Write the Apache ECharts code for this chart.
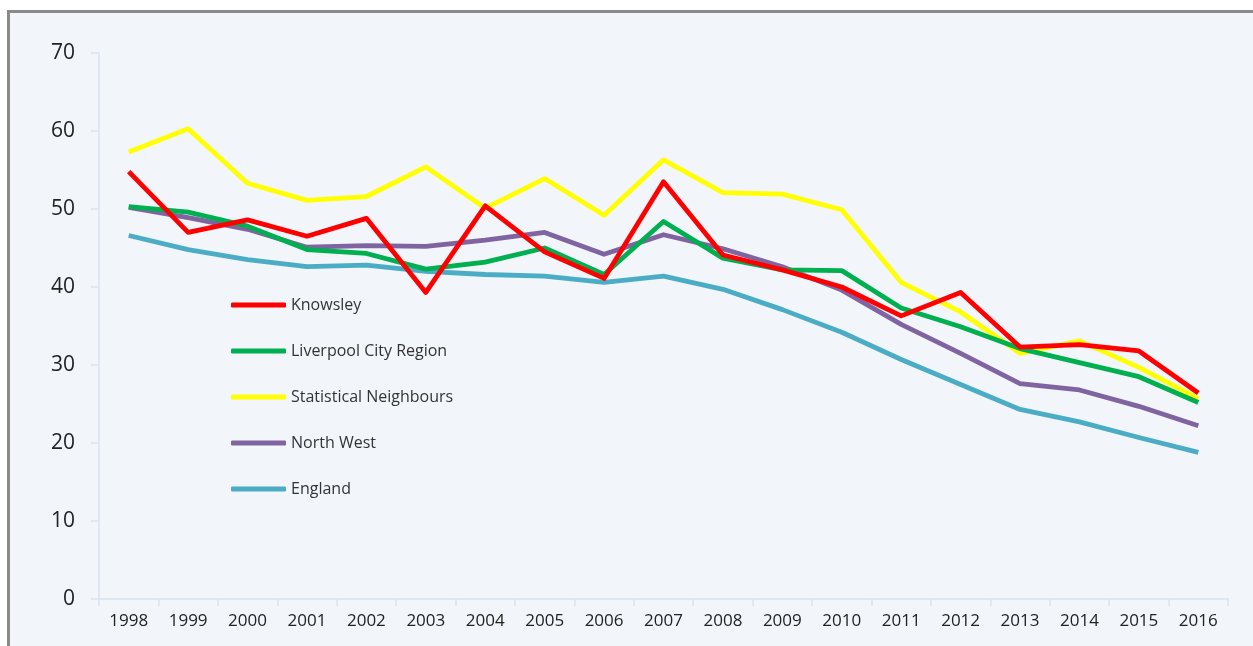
<!DOCTYPE html>
<html>
<head>
<meta charset="utf-8">
<script src="https://cdn.jsdelivr.net/npm/echarts@6/dist/echarts.min.js"></script>
<style>
  html, body { margin: 0; padding: 0; background: #ffffff; }
  #frame {
    position: absolute; left: 7px; top: 10px; width: 1260px; height: 650px;
    background: #f2f5fa; border-top: 3px solid #8a8a8a; border-left: 3px solid #8a8a8a;
    box-sizing: border-box;
  }
  #chart { position: absolute; left: 0; top: 0; width: 1253px; height: 646px; }
</style>
</head>
<body>
<div id="frame"></div>
<div id="chart"></div>
<script>
const years = ['1998','1999','2000','2001','2002','2003','2004','2005','2006','2007',
               '2008','2009','2010','2011','2012','2013','2014','2015','2016'];

const knowsley     = [54.8, 47.0, 48.6, 46.5, 48.8, 39.3, 50.4, 44.5, 41.1, 53.5, 44.1, 42.2, 40.0, 36.3, 39.3, 32.3, 32.6, 31.8, 26.4];
const liverpoolCR  = [50.3, 49.6, 47.8, 44.8, 44.3, 42.3, 43.2, 45.0, 41.6, 48.4, 43.7, 42.2, 42.1, 37.3, 34.9, 32.1, 30.3, 28.5, 25.2];
const statNeigh    = [57.3, 60.3, 53.3, 51.1, 51.6, 55.4, 50.1, 53.9, 49.2, 56.3, 52.1, 51.9, 49.9, 40.6, 36.8, 31.5, 33.1, 29.7, 25.7];
const northWest    = [50.2, 48.9, 47.4, 45.1, 45.3, 45.2, 46.0, 47.0, 44.2, 46.7, 44.9, 42.6, 39.6, 35.2, 31.5, 27.6, 26.8, 24.7, 22.2];
const england      = [46.6, 44.8, 43.5, 42.6, 42.8, 42.0, 41.6, 41.4, 40.6, 41.4, 39.7, 37.1, 34.2, 30.7, 27.5, 24.3, 22.7, 20.7, 18.8];

const seriesNames  = ['Knowsley', 'Liverpool City Region', 'Statistical Neighbours', 'North West', 'England'];
const seriesColors = ['#ff0000', '#00b050', '#ffff00', '#8064a2', '#4bacc6'];
const seriesData   = [knowsley, liverpoolCR, statNeigh, northWest, england];

const axisGrey = '#d9e3ef';
const chart = echarts.init(document.getElementById('chart'), null, { renderer: 'canvas' });

chart.setOption({
  backgroundColor: 'transparent',
  animation: false,
  grid: { left: 99, right: 25, top: 53, bottom: 47, containLabel: false },
  legend: {
    orient: 'vertical',
    left: 226, top: 290,
    itemGap: 26,
    itemWidth: 55, itemHeight: 5,
    icon: 'roundRect',
    textStyle: { fontFamily: 'Open Sans', fontSize: 16, lineHeight: 20, color: '#333333' },
    data: seriesNames
  },
  xAxis: {
    type: 'category',
    data: years,
    boundaryGap: true,
    axisLine: { lineStyle: { color: axisGrey, width: 1.5 } },
    axisTick: { show: true, length: 7, alignWithLabel: false, lineStyle: { color: axisGrey, width: 1.5 } },
    axisLabel: { fontFamily: 'Open Sans', fontSize: 17, color: '#222222', margin: 14 },
    splitLine: { show: false }
  },
  yAxis: {
    type: 'value',
    min: 0, max: 70, interval: 10,
    axisLine: { show: true, lineStyle: { color: axisGrey, width: 1.5 } },
    axisTick: { show: true, inside: false, length: 8, lineStyle: { color: axisGrey, width: 1.5 } },
    axisLabel: { fontFamily: 'Open Sans', fontSize: 21, color: '#222222', margin: 24 },
    splitLine: { show: false }
  },
  series: seriesNames.map((name, i) => ({
    name: name,
    type: 'line',
    data: seriesData[i],
    symbol: 'none',
    smooth: false,
    itemStyle: { color: seriesColors[i] },
    lineStyle: { color: seriesColors[i], width: 4.8, join: 'round' },
    z: 10 - i
  }))
});
</script>
</body>
</html>
